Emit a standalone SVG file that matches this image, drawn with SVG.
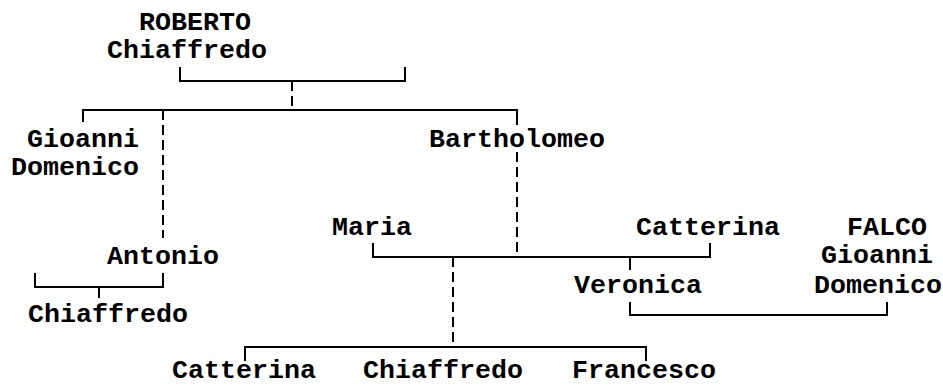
<svg xmlns="http://www.w3.org/2000/svg" width="943" height="387" viewBox="0 0 943 387">
<style>
text{font-family:"Liberation Mono","Courier New",monospace;font-size:26.67px;font-weight:bold;fill:#000}
.l{fill:none;stroke:#000;stroke-width:2}
.d{fill:none;stroke:#000;stroke-width:2;stroke-dasharray:10 5}
</style>
<rect width="943" height="387" fill="#fff"/>
<g id="connectors">
<path class="l" d="M180,67V81H405V67"/>
<path class="d" d="M292,81V110"/>
<path class="l" d="M83,122V110H517V125"/>
<path class="d" d="M163,110V238"/>
<path class="l" d="M35,273V287H163V273M99,287V298"/>
<path class="d" d="M517,152V257"/>
<path class="l" d="M373,243V257H710V243M630,257V270"/>
<path class="d" d="M453,257V347"/>
<path class="l" d="M245,361V347H646V361"/>
<path class="l" d="M630,302V315H887V302"/>
</g>
<g id="roberto"><text x="139" y="30">ROBERTO</text><text x="107" y="58">Chiaffredo</text></g>
<g id="gioanni"><text x="27" y="147">Gioanni</text><text x="11" y="175">Domenico</text></g>
<g id="bartholomeo"><text x="429" y="147">Bartholomeo</text></g>
<g id="antonio"><text x="107" y="264">Antonio</text></g>
<g id="chiaffredo1"><text x="28" y="322">Chiaffredo</text></g>
<g id="maria"><text x="332" y="235">Maria</text></g>
<g id="catterina1"><text x="636" y="235">Catterina</text></g>
<g id="falco"><text x="847" y="235">FALCO</text><text x="821" y="263">Gioanni</text><text x="814" y="293">Domenico</text></g>
<g id="veronica"><text x="574" y="293">Veronica</text></g>
<g id="catterina2"><text x="172" y="378">Catterina</text></g>
<g id="chiaffredo2"><text x="363" y="378">Chiaffredo</text></g>
<g id="francesco"><text x="572" y="378">Francesco</text></g>
</svg>
